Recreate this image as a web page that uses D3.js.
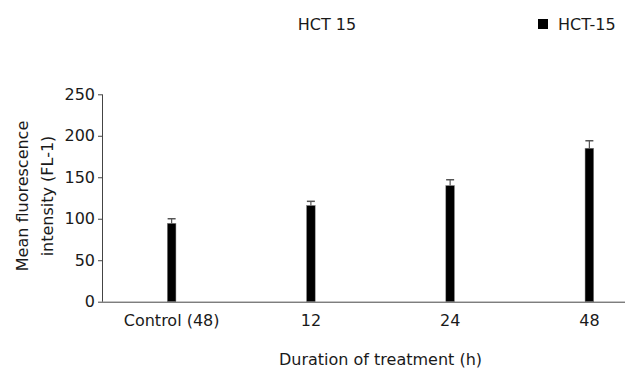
<!DOCTYPE html>
<html>
<head>
<meta charset="utf-8">
<script src="https://cdn.jsdelivr.net/npm/d3@7"></script>
<style>
  html, body { margin: 0; padding: 0; background: #fff; }
  svg { display: block; }
  text { font-family: "DejaVu Sans", Verdana, sans-serif; fill: #1a1a1a; }
</style>
</head>
<body>
<script>
const categories = ["Control (48)", "12", "24", "48"];
const values = [94.5, 116, 140, 185];
const errors = [5.5, 5, 7, 9];
const yTicks = [0, 50, 100, 150, 200, 250];
const seriesName = "HCT-15";
const title = "HCT 15";
const xTitle = "Duration of treatment (h)";
const yTitleLines = ["Mean fluorescence", "intensity (FL-1)"];

const W = 625, H = 369;
const mLeft = 102, mRight = 659, mTop = 94.3, mBottom = 301.7;
const fs = 16;

const svg = d3.select("body").append("svg").attr("width", W).attr("height", H);

const x = d3.scaleBand().domain(categories).range([mLeft, mRight]).paddingInner(0.938).paddingOuter(0.469);
const y = d3.scaleLinear().domain([0, 250]).range([mBottom, mTop]);

// y axis
const yAxis = svg.append("g").attr("transform", `translate(${mLeft},0)`)
  .call(d3.axisLeft(y).tickValues(yTicks).tickSize(4).tickPadding(3).tickSizeOuter(0));
yAxis.select(".domain").attr("stroke", "#444").attr("d", `M0.5,${mTop}V${mBottom}`);
yAxis.selectAll(".tick line").attr("stroke", "#444");
yAxis.selectAll("text").attr("font-size", fs).attr("font-family", "DejaVu Sans, Verdana, sans-serif").attr("fill", "#1a1a1a");

// x axis
const xAxis = svg.append("g").attr("transform", `translate(0,${mBottom})`)
  .call(d3.axisBottom(x).tickSize(0).tickPadding(13));
xAxis.select(".domain").attr("stroke", "#444").attr("d", `M${mLeft},0.5H${W}`);
xAxis.selectAll("text").attr("font-size", fs).attr("font-family", "DejaVu Sans, Verdana, sans-serif").attr("fill", "#1a1a1a");

// error bars
const eb = svg.append("g");
categories.forEach((c, i) => {
  const cx = x(c) + x.bandwidth() / 2;
  eb.append("line").attr("x1", cx).attr("x2", cx)
    .attr("y1", y(values[i])).attr("y2", y(values[i] + errors[i]))
    .attr("stroke", "#555").attr("stroke-width", 1.2);
  eb.append("line").attr("x1", cx - 4).attr("x2", cx + 4)
    .attr("y1", y(values[i] + errors[i])).attr("y2", y(values[i] + errors[i]))
    .attr("stroke", "#555").attr("stroke-width", 1.5);
});

// bars
svg.append("g").selectAll("rect").data(values).join("rect")
  .attr("x", (d, i) => x(categories[i]))
  .attr("width", x.bandwidth())
  .attr("y", d => y(d))
  .attr("height", d => mBottom - y(d))
  .attr("fill", "#000")
  .attr("stroke", "#888").attr("stroke-width", 0.5);

// titles
svg.append("text").attr("x", 327).attr("y", 30).attr("text-anchor", "middle").attr("font-size", fs).text(title);

svg.append("rect").attr("x", 538).attr("y", 19).attr("width", 10).attr("height", 10).attr("fill", "#000");
svg.append("text").attr("x", 558).attr("y", 30).attr("font-size", fs).text(seriesName);

svg.append("text").attr("x", (mLeft + mRight) / 2).attr("y", 365).attr("text-anchor", "middle").attr("font-size", fs).text(xTitle);

const yt = svg.append("text").attr("transform", `translate(0,${(mTop + mBottom) / 2 - 2}) rotate(-90)`)
  .attr("text-anchor", "middle").attr("font-size", fs);
yTitleLines.forEach((l, i) => {
  yt.append("tspan").attr("x", 0).attr("y", 28 + i * 25).text(l);
});
</script>
</body>
</html>
